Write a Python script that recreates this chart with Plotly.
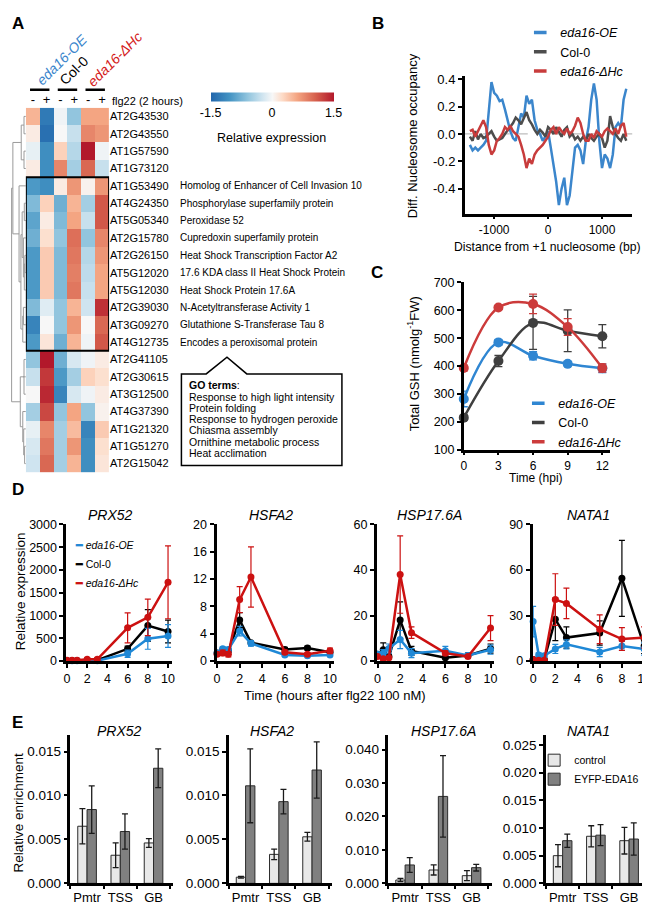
import plotly.graph_objects as go

W, H = 650, 905
FONT = "Arial, Liberation Sans, sans-serif"


def dom_x(a, b):
    return [a / W, b / W]


def dom_y(top, bottom):
    return [1 - bottom / H, 1 - top / H]


def px(a):
    return a / W


def py(b):
    return 1 - b / H


# ---------------- Panel A data ----------------
GENES = ["AT2G43530", "AT2G43550", "AT1G57590", "AT1G73120", "AT1G53490", "AT4G24350",
         "AT5G05340", "AT2G15780", "AT2G26150", "AT5G12020", "AT5G12030", "AT2G39030",
         "AT3G09270", "AT4G12735", "AT2G41105", "AT2G30615", "AT3G12500", "AT4G37390",
         "AT1G21320", "AT1G51270", "AT2G15042"]
DESCRIPTIONS = ["", "", "", "",
                "Homolog of Enhancer of Cell Invasion 10",
                "Phosphorylase superfamily protein",
                "Peroxidase 52",
                "Cupredoxin superfamily protein",
                "Heat Shock Transcription Factor A2",
                "17.6 KDA class II Heat Shock Protein",
                "Heat Shock Protein 17.6A",
                "N-Acetyltransferase Activity 1",
                "Glutathione S-Transferase Tau 8",
                "Encodes a peroxisomal protein",
                "", "", "", "", "", "", ""]
TREATMENT = ["-", "+", "-", "+", "-", "+"]
GENOTYPES = ["<i>eda16-OE</i>", "Col-0", "<i>eda16-ΔHc</i>"]
HEAT = [
    [0.5, -1.3, -0.05, -0.6, 0.6, 0.6],
    [0.1, -1.4, 0.0, -0.3, 0.8, 0.7],
    [-0.1, -1.1, 0.3, -0.4, 1.5, -0.05],
    [0.1, -1.1, 0.8, -0.5, 1.0, -0.3],
    [-1.0, -1.1, 0.1, 0.7, 0.05, 0.7],
    [-0.7, 0.3, -0.8, 0.5, -0.5, 1.1],
    [-0.9, 0.1, -0.7, 0.6, -0.3, 1.1],
    [-0.8, 0.2, -0.6, 0.95, -0.6, 0.8],
    [-1.0, 0.35, -0.7, 0.9, -0.4, 0.7],
    [-1.0, 0.35, -0.7, 0.85, -0.35, 0.6],
    [-1.0, 0.35, -0.7, 0.9, -0.3, 0.6],
    [-0.7, -0.15, -0.6, 0.5, -0.25, 1.35],
    [-1.2, 0.0, -0.6, 0.7, 0.0, 1.0],
    [-1.0, 0.15, -0.8, 0.5, -0.05, 1.1],
    [-0.6, 1.5, -0.8, -0.2, -0.05, 0.1],
    [-0.3, 1.3, -1.0, -0.5, 0.3, 0.2],
    [0.0, 1.4, -1.2, -0.2, -0.05, 0.1],
    [-0.5, 1.2, -0.6, 0.6, -0.6, 0.05],
    [-0.1, 0.8, -0.5, 0.45, -1.2, 0.35],
    [-0.2, 0.9, -0.5, 0.7, -1.1, 0.2],
    [-0.25, 1.0, -0.5, 0.5, -1.1, 0.15],
]
# hierarchical clustering merges: (left node, right node, height); new node ids start at 21
DENDRO_MERGES = [
    (0, 1, 0.6), (2, 3, 0.6), (21, 22, 1.5),
    (5, 6, 0.5), (8, 9, 0.3), (25, 10, 0.5), (7, 26, 0.8), (24, 27, 1.2),
    (11, 12, 0.8), (29, 13, 1.0), (28, 30, 1.6), (4, 31, 2.2), (23, 32, 4.2),
    (14, 16, 0.6), (34, 15, 0.9), (19, 20, 0.4), (18, 36, 0.7), (17, 37, 1.0),
    (35, 38, 1.8), (33, 39, 4.6),
]
GO_TERMS = ["Response to high light intensity", "Protein folding",
            "Response to hydrogen peroxide", "Chiasma assembly",
            "Ornithine metabolic process", "Heat acclimation"]

# ---------------- Panel B data ----------------
B_DIST = list(range(-1450, 1451, 50))
B_OE = [-0.08, -0.12, -0.10, -0.12, -0.10, -0.08, -0.05, 0.15, 0.38, 0.30, 0.28, 0.24,
        0.25, 0.18, 0.10, 0.02, -0.03, -0.05, 0.05, 0.15, 0.12, 0.28, 0.22, 0.25, 0.10,
        0.03, 0.00, -0.05, -0.02, 0.02, -0.10, -0.22, -0.35, -0.52, -0.40, -0.32, -0.52,
        -0.45, -0.25, -0.10, -0.08, -0.12, -0.22, -0.05, 0.05, 0.25, 0.37, 0.25, -0.05,
        -0.25, -0.15, -0.18, -0.25, -0.15, 0.05, 0.08, 0.05, 0.25, 0.33]
B_COL = [-0.02, -0.05, 0.02, -0.04, 0.00, -0.03, -0.02, 0.00, 0.02, -0.02, -0.05, -0.04,
         -0.03, 0.00, 0.03, 0.05, 0.08, 0.12, 0.10, 0.07, 0.12, 0.16, 0.10, 0.07, 0.03,
         0.00, 0.03, 0.01, -0.02, 0.05, 0.03, 0.00, 0.05, 0.01, -0.02, 0.03, 0.05, -0.02,
         0.00, -0.04, -0.02, -0.05, -0.02, -0.05, 0.00, -0.03, -0.05, -0.02, 0.00, -0.03,
         -0.10, -0.05, 0.13, 0.05, 0.00, -0.03, -0.05, 0.00, -0.05]
B_HC = [0.02, 0.03, -0.02, 0.02, 0.05, 0.10, 0.05, -0.08, -0.15, -0.12, -0.05, -0.03,
        0.00, 0.05, 0.03, 0.06, 0.02, 0.00, -0.02, -0.08, -0.15, -0.25, -0.18, -0.22,
        -0.15, -0.12, -0.10, -0.08, -0.05, -0.02, 0.03, 0.05, 0.00, 0.05, 0.02, 0.00,
        0.04, 0.00, 0.02, 0.06, 0.12, 0.08, 0.00, -0.05, -0.05, 0.00, -0.03, 0.02, 0.00,
        -0.02, 0.02, 0.04, 0.02, 0.00, 0.04, 0.00, 0.06, 0.08, -0.02]

# ---------------- Panel C data ----------------
C_TIME = [0, 3, 6, 9, 12]
C_OE = [282, 485, 437, 408, 392]
C_OE_ERR = [28, 10, 15, 8, 15]
C_COL = [215, 418, 555, 527, 507]
C_COL_ERR = [10, 20, 95, 75, 42]
C_HC = [393, 610, 623, 540, 393]
C_HC_ERR = [10, 6, 35, 30, 15]

# ---------------- Panel D data ----------------
D_TIME = [0, 0.5, 1, 2, 3, 6, 8, 10]
D_GENES = ["PRX52", "HSFA2", "HSP17.6A", "NATA1"]
D_OE = [[10, 10, 10, 10, 10, 160, 490, 550],
        [1.2, 1.8, 1.7, 4.4, 2.6, 0.9, 0.8, 0.9],
        [3, 3.5, 5.5, 9.5, 3.5, 4.5, 2.5, 5],
        [26, 4, 3.5, 8, 11, 6, 10, 8]]
D_OE_ERR = [[5, 5, 5, 5, 5, 80, 230, 250],
            [0.2, 0.3, 0.3, 0.7, 0.4, 0.2, 0.2, 0.2],
            [1, 1.5, 2, 4, 2, 2, 1, 2],
            [10, 1.5, 1, 3, 3, 3, 3, 4]]
D_COL = [[10, 15, 15, 20, 20, 270, 780, 650],
         [1.2, 1.6, 1.5, 6.0, 2.7, 1.7, 1.9, 1.3],
         [3, 5, 2, 18, 4.5, 1.5, 2.5, 5.5],
         [1, 1, 1, 27.5, 15.5, 18.5, 54.5, 10]]
D_COL_ERR = [[5, 10, 10, 10, 10, 60, 350, 250],
             [0.2, 0.3, 0.3, 1.1, 0.3, 0.3, 0.3, 0.3],
             [1, 3, 1, 8, 2, 0.5, 1, 2],
             [0.5, 0.5, 0.5, 14, 7, 8, 25, 5]]
D_HC = [[20, 20, 20, 40, 40, 730, 960, 1730],
        [1.0, 1.2, 1.0, 9.0, 12.3, 1.3, 1.0, 1.5],
        [2, 1, 1.5, 38, 12.5, 3.5, 2, 14.5],
        [1, 0.5, 0.5, 40.5, 38, 21, 14.5, 15.5]]
D_HC_ERR = [[10, 10, 10, 30, 30, 330, 400, 800],
            [0.2, 0.4, 0.4, 1.9, 4.4, 0.3, 0.2, 0.4],
            [0.5, 0.5, 0.5, 17, 2.5, 1, 0.5, 5.5],
            [0.5, 0.3, 0.3, 17, 10, 9.5, 7.5, 7]]
D_YMAX = [3000, 20, 60, 90]
D_YTICKS = [[0, 500, 1000, 1500, 2000, 2500, 3000], [0, 4, 8, 12, 16, 20],
            [0, 20, 40, 60], [0, 30, 60, 90]]
D_XTICKS = [0, 2, 4, 6, 8, 10]

# ---------------- Panel E data ----------------
E_REGIONS = ["Pmtr", "TSS", "GB"]
E_CTRL = [[0.0065, 0.0032, 0.0046], [0.0007, 0.0033, 0.0053],
          [0.0010, 0.0040, 0.0023], [0.0050, 0.0085, 0.0077]]
E_CTRL_ERR = [[0.0020, 0.0014, 0.0005], [0.0001, 0.0006, 0.0005],
              [0.0005, 0.0015, 0.0015], [0.0020, 0.0019, 0.0024]]
E_EYFP = [[0.0084, 0.0059, 0.0131], [0.0111, 0.0093, 0.0129],
          [0.0055, 0.0260, 0.0047], [0.0077, 0.0087, 0.0080]]
E_EYFP_ERR = [[0.0027, 0.0020, 0.0022], [0.0042, 0.0014, 0.0032],
              [0.0022, 0.0122, 0.0010], [0.0012, 0.0019, 0.0029]]
E_YMAX = [0.0169, 0.0169, 0.0444, 0.0268]
E_YTICKS = [[0, 0.005, 0.010, 0.015], [0, 0.005, 0.010, 0.015],
            [0, 0.010, 0.020, 0.030, 0.040], [0, 0.005, 0.010, 0.015, 0.020, 0.025]]

# ---------------- styles ----------------
BLUE_B, GRAY_B, RED_B = "#3b86cc", "#4d4d4d", "#c83c3c"
BLUE_D, BLACK_D, RED_D = "#1f88d6", "#000000", "#cc1111"
CTRL_COL, EYFP_COL = "#e8e8e8", "#808080"

fig = go.Figure()
layout = dict(width=W, height=H, margin=dict(l=0, r=0, t=0, b=0),
              paper_bgcolor="white", plot_bgcolor="rgba(0,0,0,0)",
              font=dict(family=FONT, color="black", size=12),
              showlegend=True, bargap=0.44, bargroupgap=0.0)
annotations = []
shapes = []


def ann(text, x, y, size=12, xanchor="center", yanchor="middle", color="black",
        angle=0, xref="paper", yref="paper", **kw):
    annotations.append(dict(text=text, x=x, y=y, xref=xref, yref=yref, showarrow=False,
                            xanchor=xanchor, yanchor=yanchor, textangle=angle,
                            font=dict(size=size, color=color, family=FONT), **kw))


def axis_style(**kw):
    d = dict(showline=True, linecolor="black", linewidth=2.5, ticks="outside",
             ticklen=4, tickwidth=1.5, tickcolor="black", showgrid=False, zeroline=False,
             mirror=False, tickangle=0)
    d.update(kw)
    return d


# ================= Panel A =================
HM_TOP, HM_BOT, HM_L, HM_R = 94.3, 465.0, 15, 99
colorscale = [[0, "#2166ac"], [0.15, "#4393c3"], [0.3, "#92c5de"], [0.42, "#d1e5f0"],
              [0.5, "#f7f7f7"], [0.58, "#fddbc7"], [0.7, "#f4a582"], [0.85, "#d6604d"],
              [1, "#b2182b"]]
fig.add_trace(go.Heatmap(
    z=HEAT, x=list(range(len(TREATMENT))), y=list(range(len(GENES))),
    zmin=-1.5, zmax=1.5, colorscale=colorscale, xaxis="x", yaxis="y",
    showscale=True, hoverinfo="skip",
    colorbar=dict(orientation="h", x=px(263.5), xanchor="center", y=py(90.5),
                  yanchor="middle", len=123, lenmode="pixels", thickness=9,
                  thicknessmode="pixels", tickvals=[-1.5, 0, 1.5],
                  ticktext=["-1.5", "0", "1.5"], ticks="", outlinewidth=0,
                  tickfont=dict(size=12.5), xpad=0, ypad=0)))
layout["xaxis"] = dict(domain=dom_x(HM_L, HM_R), anchor="y", side="top",
                       range=[-0.5, 5.5], tickvals=list(range(6)), ticktext=TREATMENT,
                       ticks="", showline=False, showgrid=False, zeroline=False,
                       tickfont=dict(size=13))
layout["yaxis"] = dict(domain=dom_y(HM_TOP, HM_BOT), anchor="x", side="right",
                       range=[len(GENES) - 0.5, -0.5], tickvals=list(range(len(GENES))),
                       ticktext=GENES, ticks="", showline=False, showgrid=False,
                       zeroline=False, tickfont=dict(size=11))

# dendrogram
pos = {i: (0.0, float(i)) for i in range(len(GENES))}
dx, dy = [], []
nid = len(GENES)
for a, b, h in DENDRO_MERGES:
    xa, ya = pos[a]
    xb, yb = pos[b]
    dx += [xa, h, h, xb, None]
    dy += [ya, ya, yb, yb, None]
    pos[nid] = (h, (ya + yb) / 2)
    nid += 1
fig.add_trace(go.Scatter(x=dx, y=dy, mode="lines", line=dict(color="#9a9a9a", width=1),
                         xaxis="x2", yaxis="y2", showlegend=False, hoverinfo="skip"))
layout["xaxis2"] = dict(domain=dom_x(0, HM_L), anchor="y2", range=[4.8, 0], visible=False)
layout["yaxis2"] = dict(domain=dom_y(HM_TOP, HM_BOT), anchor="x2",
                        range=[len(GENES) - 0.5, -0.5], visible=False)

# descriptions
for i, d in enumerate(DESCRIPTIONS):
    if d:
        ann(d, px(169), i, size=10, xanchor="left", yref="y")

# genotype headers
for k, (g, col, cx, cy) in enumerate(zip(GENOTYPES, ["#3b86cc", "black", "#d42020"],
                                         [51, 64, 105], [46, 56, 45])):
    ann(g, px(cx), py(cy), size=14, color=col, angle=-45)
    shapes.append(dict(type="line", xref="x", yref="paper", x0=2 * k - 0.2, x1=2 * k + 1.2,
                       y0=py(76), y1=py(76), line=dict(color="black", width=2.5)))
ann("flg22 (2 hours)", px(100), py(87), size=11, xanchor="left")
ann("Relative expression", px(263), py(125), size=12.5)

# cluster box
shapes.append(dict(type="rect", xref="x", yref="y", x0=-0.5, x1=5.5, y0=3.5, y1=13.5,
                   line=dict(color="black", width=2)))
# GO callout
pts = [(172, 365), (197, 365), (218, 348), (238, 365), (334, 365), (334, 458), (172, 458)]
path = "M " + " L ".join(f"{px(a):.5f},{py(b):.5f}" for a, b in pts) + " Z"
shapes.append(dict(type="path", xref="paper", yref="paper", path=path,
                   line=dict(color="black", width=1.5), fillcolor="white"))
ann("<b>GO terms</b>:", px(178), py(376), size=10.5, xanchor="left")
for j, t in enumerate(GO_TERMS):
    ann(t, px(178), py(388 + 11.5 * j), size=10.5, xanchor="left")

# ================= Panel B =================
B_SERIES = [("<i>eda16-OE</i>", B_OE, BLUE_B), ("Col-0", B_COL, GRAY_B),
            ("<i>eda16-ΔHc</i>", B_HC, RED_B)]
for name, vals, col in B_SERIES:
    fig.add_trace(go.Scatter(x=B_DIST, y=vals, mode="lines", line=dict(color=col, width=2.5),
                             xaxis="x3", yaxis="y3", showlegend=False, hoverinfo="skip"))
for name, vals, col in B_SERIES:
    fig.add_trace(go.Scatter(x=[None], y=[None], mode="markers", name=name,
                             marker=dict(symbol="line-ew", size=9,
                                         line=dict(width=3.5, color=col)),
                             xaxis="x3", yaxis="y3", legend="legend"))
shapes.append(dict(type="line", xref="x3 domain", yref="y3", x0=0, x1=1, y0=0, y1=0,
                   layer="below", line=dict(color="#bdbdbd", width=1.2, dash="dash")))
layout["xaxis3"] = axis_style(domain=dom_x(458, 627), anchor="y3", range=[-1545, 1560],
                              tickvals=[-1000, 0, 1000], ticktext=["-1000", "0", "1000"],
                              tickfont=dict(size=12), ticklen=3)
layout["yaxis3"] = axis_style(domain=dom_y(62, 202), anchor="x3", range=[-0.583, 0.424],
                              tickvals=[-0.4, -0.2, 0, 0.2, 0.4],
                              ticktext=["-0.4", "-0.2", "0.0", "0.2", "0.4"],
                              tickfont=dict(size=13))
ann("Diff. Nucleosome occupancy", px(406), py(123), size=13, angle=-90)
ann("Distance from +1 nucleosome (bp)", px(541), py(236), size=12.2)
layout["legend"] = dict(x=px(514), y=py(3), xanchor="left", yanchor="top",
                        bgcolor="rgba(0,0,0,0)", font=dict(size=12.5), tracegroupgap=0)

# ================= Panel C =================
C_SERIES = [("<i>eda16-OE</i>", C_OE, C_OE_ERR, "#2f86d2"),
            ("Col-0", C_COL, C_COL_ERR, "#3f3f3f"),
            ("<i>eda16-ΔHc</i>", C_HC, C_HC_ERR, "#cc3b3b")]
for name, vals, err, col in C_SERIES:
    fig.add_trace(go.Scatter(x=C_TIME, y=vals, mode="lines+markers",
                             line=dict(color=col, width=2.5, shape="spline", smoothing=1.0),
                             marker=dict(color=col, size=10),
                             error_y=dict(type="data", array=err, color=col, thickness=1.3,
                                          width=4),
                             xaxis="x4", yaxis="y4", showlegend=False, cliponaxis=False,
                             hoverinfo="skip"))
for name, vals, err, col in C_SERIES:
    fig.add_trace(go.Scatter(x=[None], y=[None], mode="markers", name=name,
                             marker=dict(symbol="line-ew", size=9,
                                         line=dict(width=3.5, color=col)),
                             xaxis="x4", yaxis="y4", legend="legend2"))
layout["xaxis4"] = axis_style(domain=dom_x(457, 605), anchor="y4", range=[0, 12.7],
                              tickvals=C_TIME, tickfont=dict(size=12), ticklen=3)
layout["yaxis4"] = axis_style(domain=dom_y(272, 442), anchor="x4", range=[100, 700],
                              tickvals=[100, 200, 300, 400, 500, 600, 700],
                              tickfont=dict(size=12.5))
ann("Total GSH (nmolg<sup>-1</sup>FW)", px(406), py(355), size=13, angle=-90)
ann("Time (hpi)", px(530), py(471), size=12)
layout["legend2"] = dict(x=px(512), y=py(380), xanchor="left", yanchor="top",
                         bgcolor="rgba(0,0,0,0)", font=dict(size=12.5), tracegroupgap=0)

# ================= Panel D =================
D_ZERO_PX = [56.5, 208, 370, 527]
D_PX_PER_H = [10.2, 11.4, 11.4, 11.2]
D_TITLE_X = [100, 262, 422, 583]
for k in range(4):
    xa, ya = f"x{5 + k}", f"y{5 + k}"
    for vals, err, col in [(D_COL, D_COL_ERR, BLACK_D), (D_OE, D_OE_ERR, BLUE_D),
                           (D_HC, D_HC_ERR, RED_D)]:
        fig.add_trace(go.Scatter(x=D_TIME, y=vals[k], mode="lines+markers",
                                 line=dict(color=col, width=2.5),
                                 marker=dict(color=col, size=7),
                                 error_y=dict(type="data", array=err[k], color=col,
                                              thickness=1.2, width=3),
                                 xaxis=xa, yaxis=ya, showlegend=False, cliponaxis=False,
                                 hoverinfo="skip"))
    x0 = D_ZERO_PX[k] - 0.05 * D_PX_PER_H[k]
    x1 = D_ZERO_PX[k] + 10.35 * D_PX_PER_H[k]
    layout[f"xaxis{5 + k}"] = axis_style(domain=dom_x(x0, x1), anchor=ya,
                                         range=[-0.05, 10.35], tickvals=D_XTICKS,
                                         tickfont=dict(size=12.5), linewidth=3)
    layout[f"yaxis{5 + k}"] = axis_style(domain=dom_y(518, 657), anchor=xa,
                                         range=[0, D_YMAX[k]], tickvals=D_YTICKS[k],
                                         tickfont=dict(size=12.5), linewidth=3)
    ann(f"<i>{D_GENES[k]}</i>", px(D_TITLE_X[k]), py(508), size=14)
for name, col in [("<i>eda16-OE</i>", BLUE_D), ("Col-0", BLACK_D),
                  ("<i>eda16-ΔHc</i>", RED_D)]:
    fig.add_trace(go.Scatter(x=[None], y=[None], mode="markers",
                             name=f'<span style="color:{col}"><b>━</b></span> {name}',
                             marker=dict(size=1, color="rgba(0,0,0,0)"),
                             xaxis="x5", yaxis="y5", legend="legend3"))
layout["legend3"] = dict(x=px(25), y=py(524), xanchor="left", yanchor="top",
                         bgcolor="rgba(0,0,0,0)", font=dict(size=10.5), tracegroupgap=0)
ann("Relative expression", px(9), py(586), size=13.5, angle=-90)
ann("Time (hours after flg22 100 nM)", px(327), py(692), size=13)

# ================= Panel E =================
E_AXIS_PX = [60, 220, 381, 540]
E_TITLE_X = [110, 263, 437, 583]
for k in range(4):
    xa, ya = f"x{9 + k}", f"y{9 + k}"
    for name, vals, err, col in [("control", E_CTRL, E_CTRL_ERR, CTRL_COL),
                                 ("EYFP-EDA16", E_EYFP, E_EYFP_ERR, EYFP_COL)]:
        fig.add_trace(go.Bar(x=E_REGIONS, y=vals[k], name=name,
                             marker=dict(color=col, line=dict(color="#2b2b2b", width=1)),
                             error_y=dict(type="data", array=err[k], color="#1a1a1a",
                                          thickness=1.3, width=3),
                             xaxis=xa, yaxis=ya, showlegend=(k == 3), legend="legend4",
                             hoverinfo="skip"))
    layout[f"xaxis{9 + k}"] = axis_style(domain=dom_x(E_AXIS_PX[k], E_AXIS_PX[k] + 104),
                                         anchor=ya, range=[-0.5, 2.6], type="category",
                                         tickson="boundaries", tickfont=dict(size=13),
                                         ticklen=3)
    layout[f"yaxis{9 + k}"] = axis_style(domain=dom_y(732, 883), anchor=xa,
                                         range=[0, E_YMAX[k]], tickvals=E_YTICKS[k],
                                         tickformat=".3f", tickfont=dict(size=13.5))
    ann(f"<i>{D_GENES[k]}</i>", px(E_TITLE_X[k]), py(728), size=14)
layout["legend4"] = dict(x=px(528), y=py(743), xanchor="left", yanchor="top",
                         bgcolor="rgba(0,0,0,0)", font=dict(size=10.5), tracegroupgap=0)
ann("Relative enrichment", px(8), py(811), size=13.5, angle=-90)

# panel letters
for letter, (lx, ly) in {"A": (7, 9), "B": (370, 9), "C": (369, 262), "D": (7, 483),
                         "E": (7, 719)}.items():
    ann(f"<b>{letter}</b>", px(lx), py(ly), size=17)

layout["annotations"] = annotations
layout["shapes"] = shapes
fig.update_layout(**layout)
fig.write_html("out.html")
